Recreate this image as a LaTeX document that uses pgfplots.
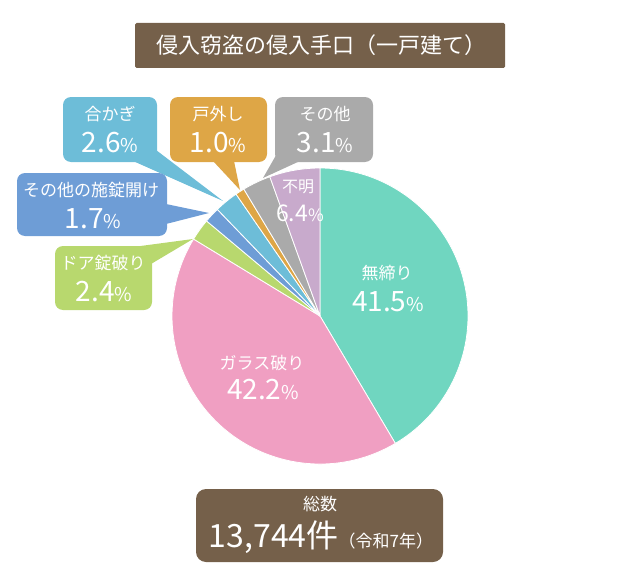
\documentclass[border=0pt]{standalone}
\usepackage{pgfplots}
\usepackage{pgfplotstable}
\usepackage{fontspec}
\pgfplotsset{compat=1.18}
\setmainfont{Noto Sans CJK JP}

\definecolor{cTeal}{HTML}{70D6C0}
\definecolor{cPink}{HTML}{F09FC2}
\definecolor{cGreen}{HTML}{B8D86E}
\definecolor{cBlue}{HTML}{6E9DD6}
\definecolor{cLBlue}{HTML}{6DBDD8}
\definecolor{cOrange}{HTML}{DEA646}
\definecolor{cGray}{HTML}{AAAAAA}
\definecolor{cPurple}{HTML}{C8AACC}
\definecolor{cBrown}{HTML}{75604A}

% share of each method, clockwise from 12 o'clock
\pgfplotstableread{
key value color
muzimari 41.5 cTeal
glass 42.2 cPink
door 2.4 cGreen
otherlock 1.7 cBlue
key 2.6 cLBlue
removal 1.0 cOrange
other 3.1 cGray
unknown 6.4 cPurple
}\piedata

\newcommand{\lab}{\fontsize{17}{20}\selectfont}
\newcommand{\pct}[1]{{\fontsize{28}{30}\selectfont #1\fontsize{19}{20}\selectfont\%}}

\begin{document}
\begin{tikzpicture}
\path[use as bounding box] (0,0) rectangle (640pt,578pt);
\begin{axis}[
    at={(0,0)}, anchor=south west,
    width=640pt, height=578pt, scale only axis,
    xmin=0, xmax=640, ymin=0, ymax=578,
    y dir=reverse,
    hide axis, clip=false,
]
% pie slices
\def\cum{0}
\pgfplotsforeachungrouped \i in {0,...,7}{%
    \pgfplotstablegetelem{\i}{value}\of\piedata
    \let\val\pgfplotsretval
    \pgfplotstablegetelem{\i}{color}\of\piedata
    \let\col\pgfplotsretval
    \pgfmathsetmacro{\endp}{min(\cum+\val,100)}
    \pgfmathsetmacro{\a}{90-3.6*\cum}
    \pgfmathsetmacro{\b}{90-3.6*\endp}
    \edef\temp{\noexpand\filldraw[fill=\col, draw=white, line width=0.8pt, line join=round]
        (axis cs:320,316) -- ++(\a:148pt) arc[start angle=\a, end angle=\b, radius=148pt] -- cycle;}
    \temp
    \let\cum\endp
}

% title
\fill[cBrown, rounded corners=1.5pt] (axis cs:135,23) rectangle (axis cs:505,68);
\node[text=white, font=\fontsize{22}{24}\selectfont] at (axis cs:321,45.5) {侵入窃盗の侵入手口（一戸建て）};

% callouts
\fill[cLBlue, rounded corners=8pt] (axis cs:63,97) rectangle (axis cs:157,162);
\fill[cLBlue] (axis cs:133,161) -- (axis cs:223,201) -- (axis cs:156,150) -- cycle;
\node[text=white, font=\lab] at (axis cs:110,114) {合かぎ};
\node[text=white] at (axis cs:110,143) {\pct{2.6}};

\fill[cOrange, rounded corners=8pt] (axis cs:170,97) rectangle (axis cs:267,162);
\fill[cOrange] (axis cs:213,161) -- (axis cs:240,190) -- (axis cs:234,161) -- cycle;
\node[text=white, font=\lab] at (axis cs:218,114) {戸外し};
\node[text=white] at (axis cs:218,143) {\pct{1.0}};

\fill[cGray, rounded corners=8pt] (axis cs:275,97) rectangle (axis cs:373,162);
\fill[cGray] (axis cs:279,150) -- (axis cs:263,178) -- (axis cs:300,161) -- cycle;
\node[text=white, font=\lab] at (axis cs:325,114) {その他};
\node[text=white] at (axis cs:325,143) {\pct{3.1}};

\fill[cBlue, rounded corners=8pt] (axis cs:17,173) rectangle (axis cs:167,236);
\fill[cBlue] (axis cs:166,204) -- (axis cs:209,213) -- (axis cs:166,224) -- cycle;
\node[text=white, font=\lab] at (axis cs:91,190) {その他の施錠開け};
\node[text=white] at (axis cs:93,219) {\pct{1.7}};

\fill[cGreen, rounded corners=8pt] (axis cs:55,246) rectangle (axis cs:152,310);
\fill[cGreen] (axis cs:133,247) -- (axis cs:193,239) -- (axis cs:151,264) -- cycle;
\node[text=white, font=\lab] at (axis cs:103,263) {ドア錠破り};
\node[text=white] at (axis cs:104,292) {\pct{2.4}};

% labels inside the pie
\node[text=white, font=\lab] at (axis cs:387,273) {無締り};
\node[text=white] at (axis cs:388,302) {\pct{41.5}};
\node[text=white, font=\lab] at (axis cs:262,363) {ガラス破り};
\node[text=white] at (axis cs:263,390) {\pct{42.2}};
\node[text=white, font=\fontsize{16}{18}\selectfont] at (axis cs:298,187) {不明};
\node[text=white] at (axis cs:300,213) {{\fontsize{23}{25}\selectfont 6.4\fontsize{17}{18}\selectfont\%}};

% total
\fill[cBrown, rounded corners=10pt] (axis cs:196,489) rectangle (axis cs:443,562);
\node[text=white, font=\lab] at (axis cs:320,504) {総数};
\node[text=white] at (axis cs:321,537) {{\fontsize{32}{34}\selectfont 13,744件}{\fontsize{17}{18}\selectfont （令和7年）}};
\end{axis}
\end{tikzpicture}
\end{document}
